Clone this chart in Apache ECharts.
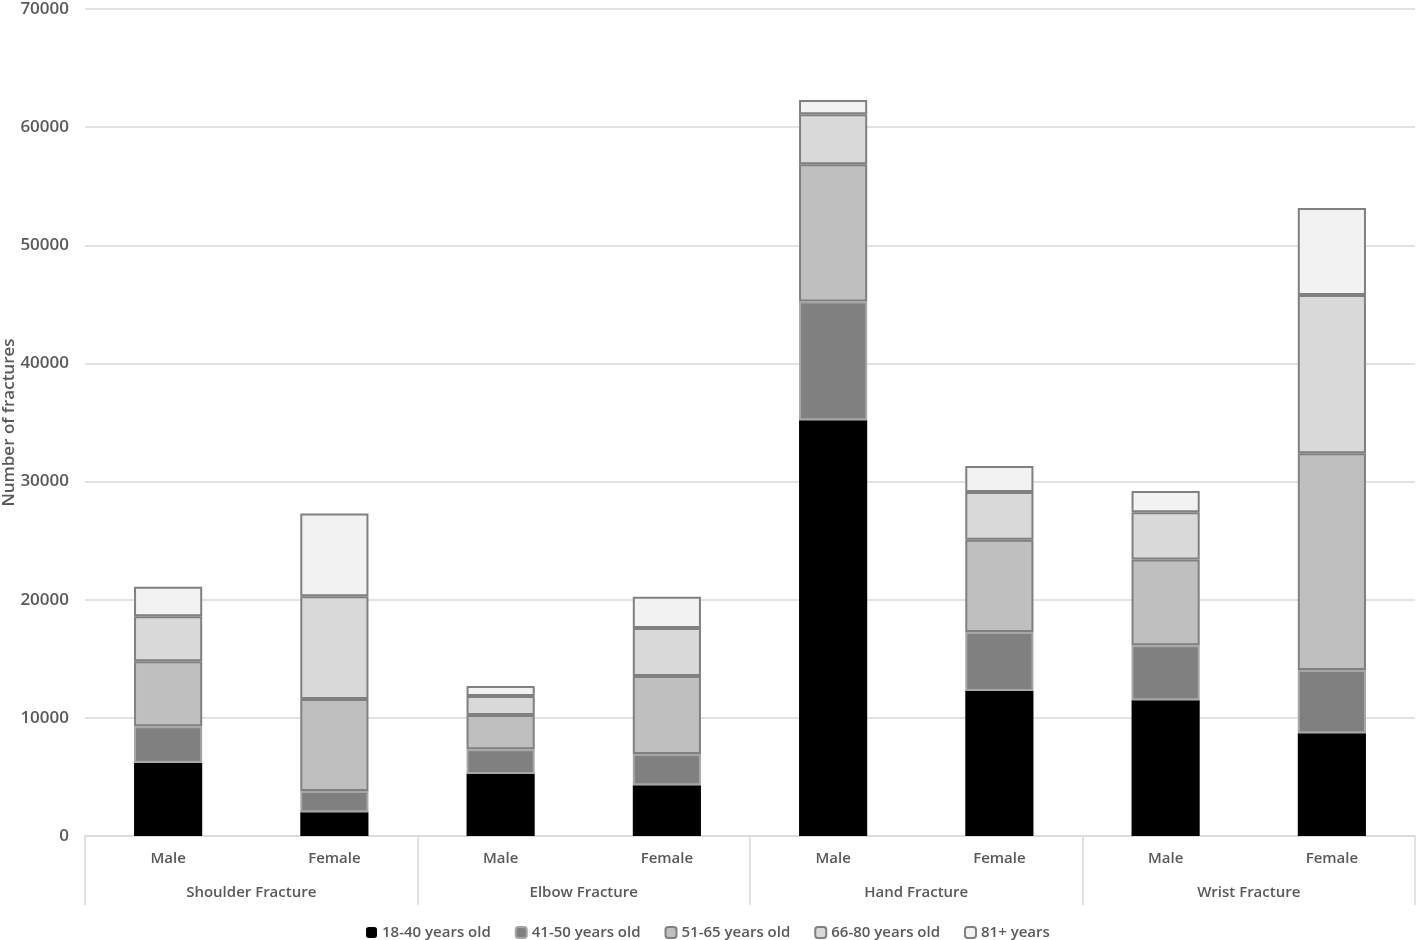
<!DOCTYPE html>
<html>
<head>
<meta charset="utf-8">
<script src="https://cdn.jsdelivr.net/npm/echarts@6/dist/echarts.min.js"></script>
<style>
html,body{margin:0;padding:0;background:#fff;}
#main{width:1424px;height:940px;}
</style>
</head>
<body>
<div id="main"></div>
<script>
const sexes = ['Male','Female','Male','Female','Male','Female','Male','Female'];
const groups = ['Shoulder Fracture','Elbow Fracture','Hand Fracture','Wrist Fracture'];
const seriesNames = ['18-40 years old','41-50 years old','51-65 years old','66-80 years old','81+ years'];
const age18_40 = [6200, 2000, 5250, 4300, 35200, 12270, 11500, 8700];
const age41_50 = [3100, 1800, 2100, 2650, 10050, 5000, 4650, 5350];
const age51_65 = [5500, 7800, 2900, 6600, 11600, 7800, 7250, 18350];
const age66_80 = [3800, 8700, 1600, 4050, 4250, 4050, 4000, 13400];
const age81p   = [2500, 7000, 850, 2650, 1200, 2200, 1800, 7350];
const yTicks = {min: 0, max: 70000, interval: 10000};

const font = '"Open Sans", Lato, sans-serif';
const txt = '#595959';
const fills = ['#000000','#808080','#bfbfbf','#d9d9d9','#f2f2f2'];
const borders = ['#000000','#a6a6a6','#808080','#808080','#808080'];
const dataArr = [age18_40, age41_50, age51_65, age66_80, age81p];

const chart = echarts.init(document.getElementById('main'));
chart.setOption({
  animation: false,
  backgroundColor: '#fff',
  textStyle: {fontFamily: font},
  grid: {left: 85, right: 9, top: 9, bottom: 104, containLabel: false, outerBoundsMode: 'none'},
  legend: {
    top: 920, left: 361,
    itemWidth: 11, itemHeight: 11, itemGap: 24,
    textStyle: {fontFamily: font, fontSize: 15, color: txt, fontWeight: 600},
    data: seriesNames
  },
  xAxis: [
    {
      type: 'category', data: sexes, position: 'bottom',
      axisLine: {show: true, lineStyle: {color: '#d9d9d9', width: 1.5}},
      axisTick: {show: false},
      axisLabel: {fontFamily: font, fontSize: 15, fontWeight: 600, color: txt, margin: 15},
      splitLine: {show: false}
    },
    {
      type: 'category', data: groups, position: 'bottom',
      axisLine: {show: false},
      axisTick: {show: true, length: 69, lineStyle: {color: '#d9d9d9', width: 1.5}},
      axisLabel: {fontFamily: font, fontSize: 15, fontWeight: 600, color: txt, margin: 49},
      splitLine: {show: false}
    }
  ],
  yAxis: {
    type: 'value', min: yTicks.min, max: yTicks.max, interval: yTicks.interval,
    name: 'Number of fractures', nameLocation: 'middle', nameGap: 67, nameRotate: 90,
    nameMoveOverlap: false,
    nameTextStyle: {fontFamily: font, fontSize: 17, fontWeight: 600, color: txt},
    axisLine: {show: false}, axisTick: {show: false},
    axisLabel: {fontFamily: font, fontSize: 17, fontWeight: 600, color: txt, margin: 16,
      formatter: v => String(v)},
    splitLine: {lineStyle: {color: '#d9d9d9', width: 1.5}}
  },
  series: seriesNames.map((n, i) => ({
    name: n, type: 'bar', stack: 'total', xAxisIndex: 0,
    barWidth: '41%',
    data: dataArr[i],
    itemStyle: {color: fills[i], borderColor: borders[i], borderWidth: i === 0 ? 0 : 2}
  }))
});
</script>
</body>
</html>
